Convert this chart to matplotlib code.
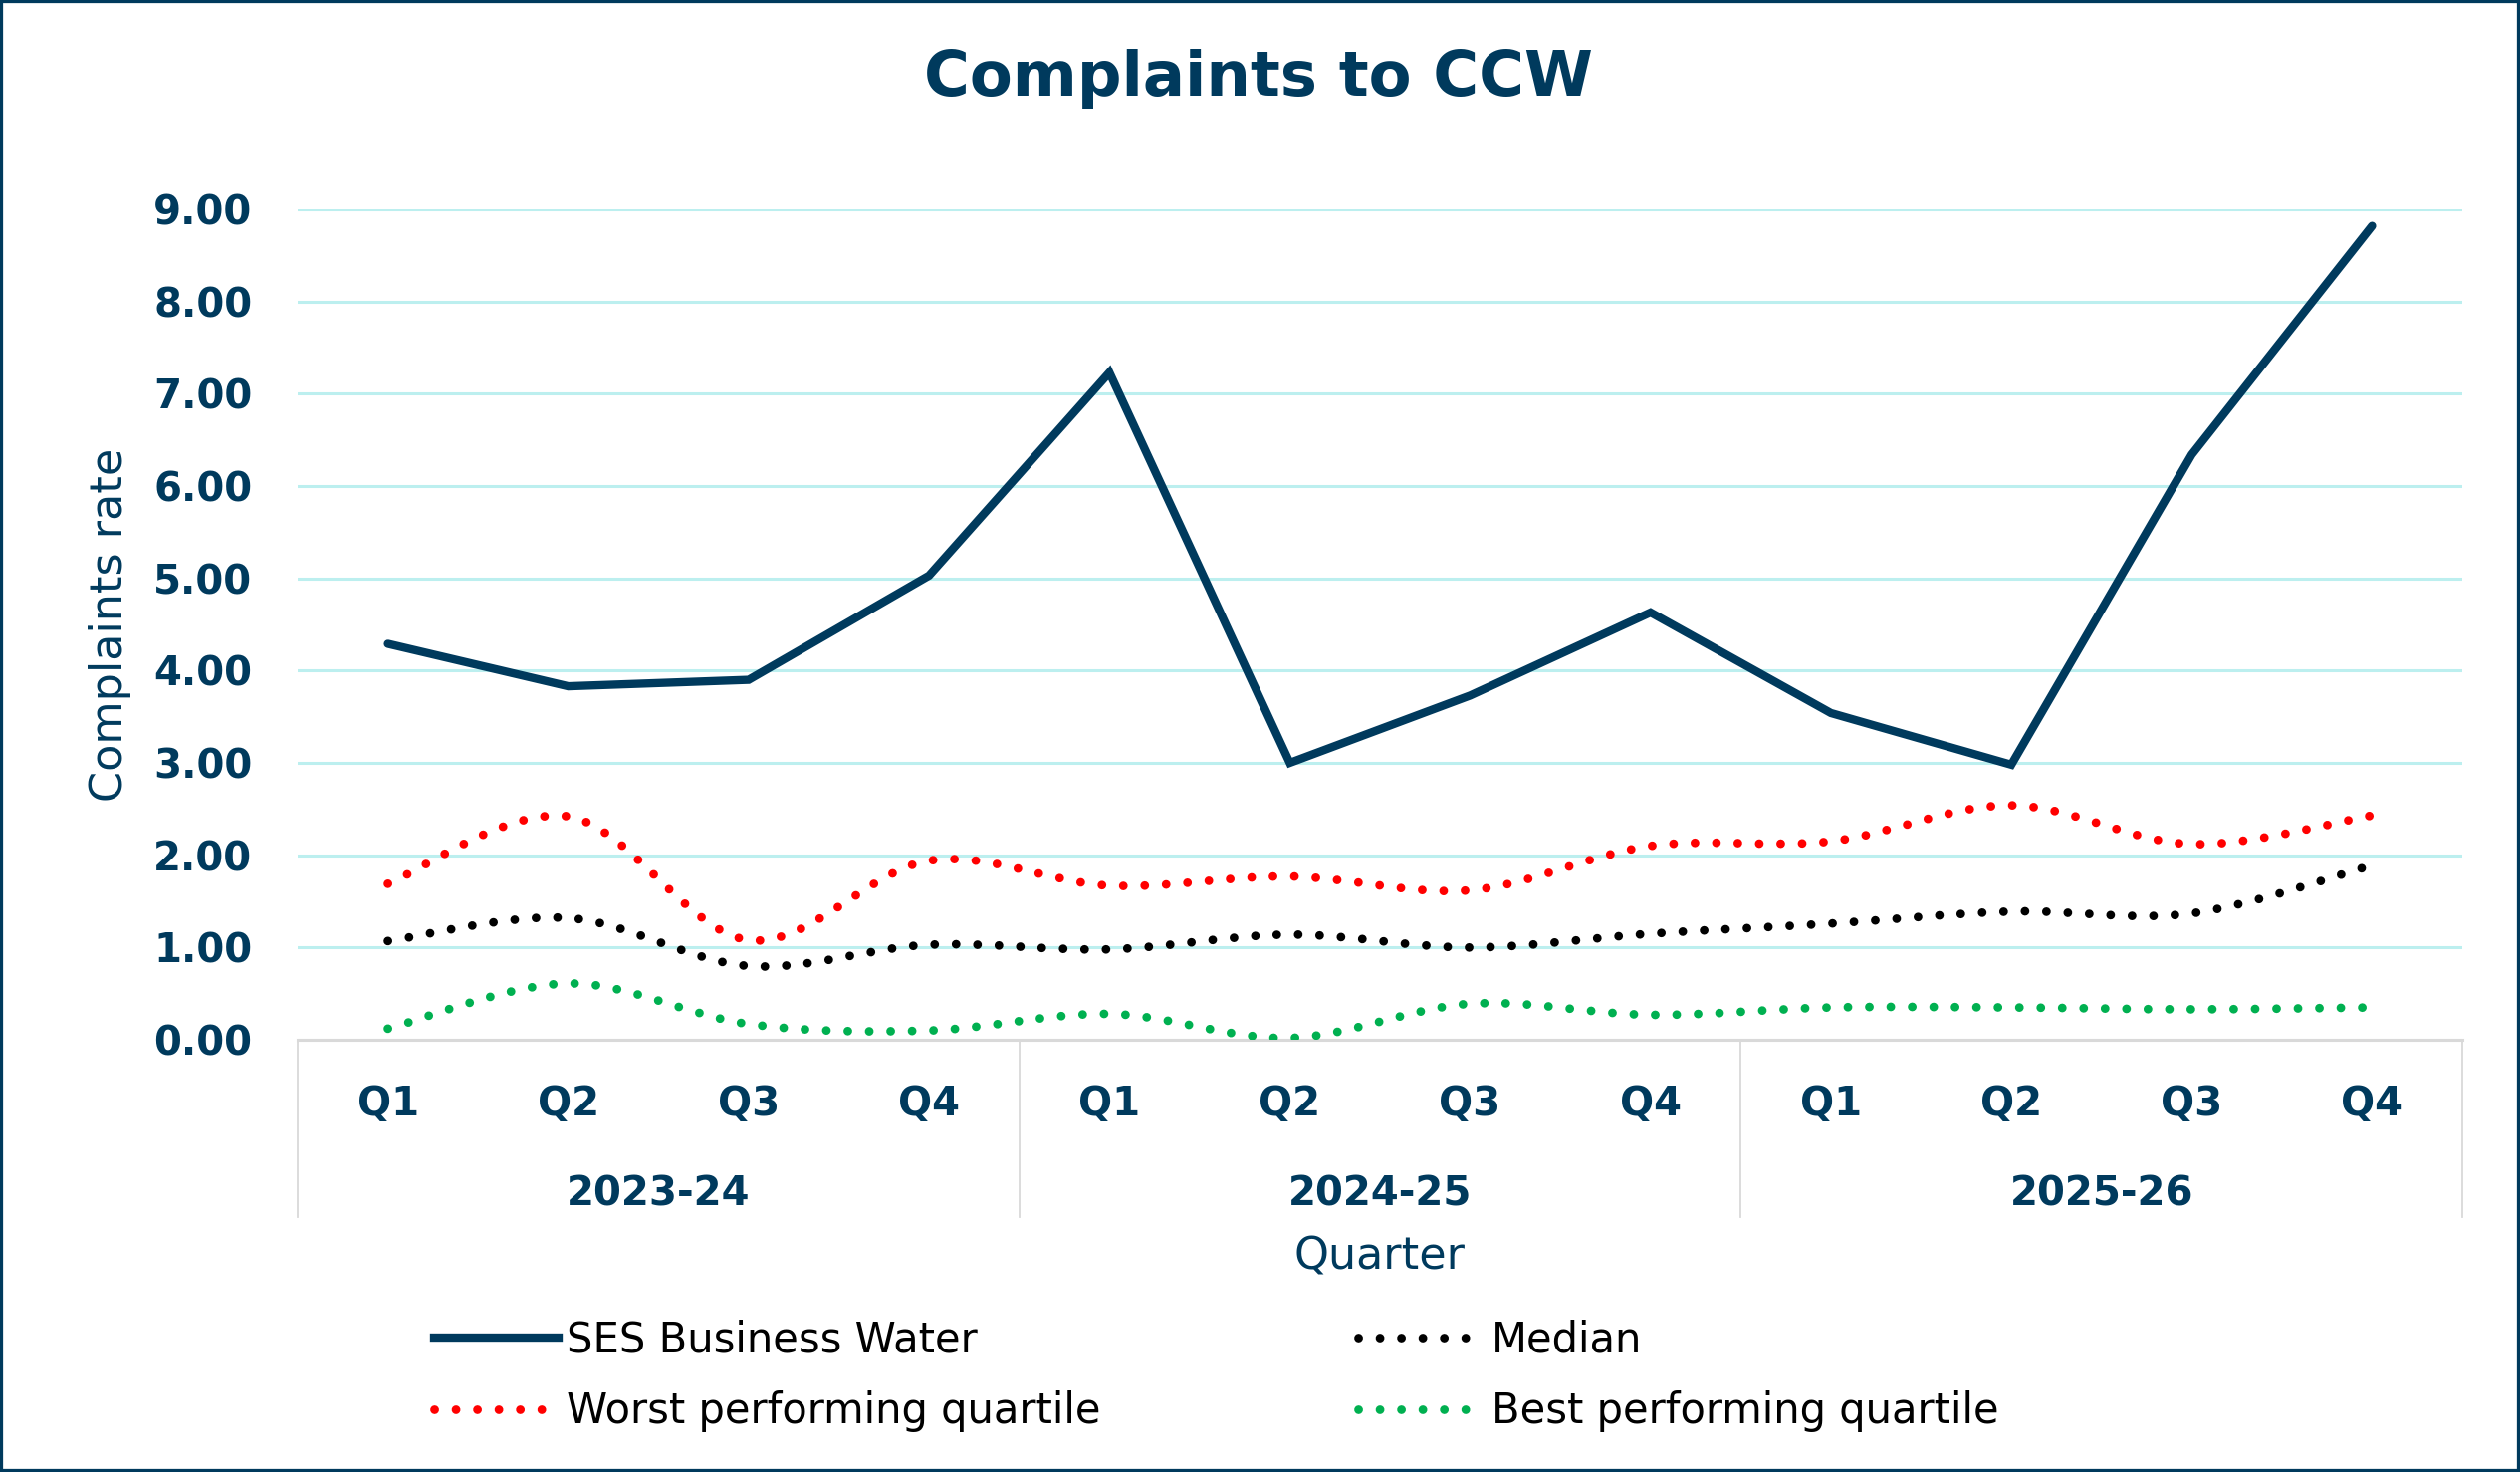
import numpy as np
import matplotlib
matplotlib.use("Agg")
import matplotlib.pyplot as plt
from matplotlib.path import Path
from matplotlib.patches import PathPatch, Rectangle
from matplotlib.lines import Line2D
import matplotlib.transforms as mtransforms

# ---------------- data ----------------
years = ["2023-24", "2024-25", "2025-26"]
quarters = ["Q1", "Q2", "Q3", "Q4"]
ses_business_water = [4.29, 3.83, 3.90, 5.03, 7.23, 3.00, 3.73, 4.63, 3.54, 2.98, 6.34, 8.82]
worst_quartile = [1.69, 2.42, 1.08, 1.94, 1.67, 1.77, 1.62, 2.10, 2.15, 2.54, 2.12, 2.43]
median = [1.07, 1.32, 0.80, 1.03, 0.98, 1.14, 1.00, 1.15, 1.26, 1.39, 1.37, 1.89]
best_quartile = [0.12, 0.61, 0.17, 0.10, 0.28, 0.02, 0.39, 0.27, 0.35, 0.35, 0.33, 0.35]
y_ticks = [0, 1, 2, 3, 4, 5, 6, 7, 8, 9]

NAVY = "#003A5D"
GRID = "#BCEFEF"
GRAY = "#D9D9D9"

plt.rcParams['font.family'] = ['DejaVu Sans']

W, H = 2531, 1478
fig = plt.figure(figsize=(W / 100, H / 100), dpi=100)
ax = fig.add_axes([299 / W, 1 - 1044 / H, (2473 - 299) / W, (1044 - 210) / H])

n = len(ses_business_water)
x = np.arange(n)


def smooth_path(xs, ys):
    """Excel-style smoothed line as cubic Bezier path (control points only)."""
    pts = np.column_stack([xs, ys]).astype(float)
    verts = [pts[0]]
    codes = [Path.MOVETO]
    m = len(pts)
    for i in range(m - 1):
        p0 = pts[i - 1] if i > 0 else pts[i]
        p1 = pts[i]
        p2 = pts[i + 1]
        p3 = pts[i + 2] if i + 2 < m else pts[i + 1]
        b1 = p1 + (p2 - p0) / 6.0
        b2 = p2 - (p3 - p1) / 6.0
        verts += [b1, b2, p2]
        codes += [Path.CURVE4] * 3
    return Path(verts, codes)


dot_style = (0, (0.01, 2.45))
DOT_LW = 6.3
MAIN_LW = 6.0

# main series (straight)
ax.plot(x, ses_business_water, color=NAVY, lw=MAIN_LW, solid_joinstyle='miter',
        solid_capstyle='round', zorder=5)

series = [(worst_quartile, "#FF0000"), (median, "#000000"), (best_quartile, "#00B050")]
for vals, col in series:
    pp = PathPatch(smooth_path(x, vals), fill=False, edgecolor=col, lw=DOT_LW,
                   linestyle=dot_style, capstyle='round', zorder=4)
    ax.add_patch(pp)

ax.set_xlim(-0.5, n - 0.5)
ax.set_ylim(0, 9)
ax.set_yticks(y_ticks)
ax.set_yticklabels([f"{v:.2f}" for v in y_ticks], fontsize=29, fontweight='bold', color=NAVY)
ax.tick_params(axis='y', length=0, pad=33)
ax.set_xticks([])
ax.grid(axis='y', color=GRID, lw=2.2)
ax.set_axisbelow(True)
for s in ['top', 'right', 'left']:
    ax.spines[s].set_visible(False)
ax.spines['bottom'].set_color(GRAY)
ax.spines['bottom'].set_linewidth(2.2)

# multi-level category axis
trans = mtransforms.blended_transform_factory(ax.transData, ax.transAxes)
for i in range(n):
    ax.text(i, -0.078, quarters[i % 4], transform=trans, ha='center', va='center',
            fontsize=29, fontweight='bold', color=NAVY)
for j, yr in enumerate(years):
    ax.text(4 * j + 1.5, -0.186, yr, transform=trans, ha='center', va='center',
            fontsize=29, fontweight='bold', color=NAVY)
for b in [-0.5, 3.5, 7.5, 11.5]:
    ax.plot([b, b], [0, -0.2134], transform=trans, color=GRAY, lw=1.3, clip_on=False)

ax.set_ylabel("Complaints rate", fontsize=32, color=NAVY, labelpad=16)
fig.text(ax.get_position().x0 + ax.get_position().width / 2, 1 - 1262 / H, "Quarter",
         ha='center', va='center', fontsize=32, color=NAVY)

fig.text(1264 / W, 1 - 79 / H, "Complaints to CCW", ha='center', va='center',
         fontsize=45, fontweight='bold', color=NAVY)

# legend
handles = [
    Line2D([], [], color=NAVY, lw=MAIN_LW),
    Line2D([], [], color="#FF0000", lw=DOT_LW, linestyle=dot_style, dash_capstyle='round'),
    Line2D([], [], color="#000000", lw=DOT_LW, linestyle=dot_style, dash_capstyle='round'),
    Line2D([], [], color="#00B050", lw=DOT_LW, linestyle=dot_style, dash_capstyle='round'),
]
labels = ["SES Business Water", "Worst performing quartile", "Median", "Best performing quartile"]
fig.legend(handles, labels, ncol=2, loc='upper left', bbox_to_anchor=(436 / W, 1 - 1325 / H),
           frameon=False, fontsize=30, handlelength=3.0, handletextpad=0.2,
           columnspacing=6.2, labelspacing=0.7, borderpad=0, borderaxespad=0,
           labelcolor='#000000')

# outer border
fig.patches.append(Rectangle((0, 0), 1, 1, transform=fig.transFigure, fill=False,
                             edgecolor=NAVY, lw=4.5, zorder=10))

fig.savefig("out.png", dpi=100, facecolor='white')
